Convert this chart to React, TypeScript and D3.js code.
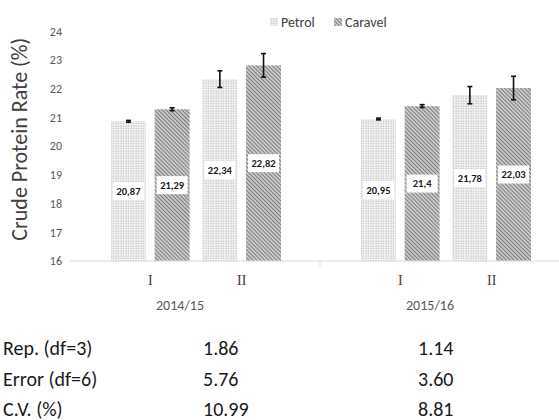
import React from 'react';
import * as d3 from 'd3';

// values
const seasons = ['2014/15', '2015/16'];
const stages = ['I', 'II'];
const varieties = ['Petrol', 'Caravel'];

// [season][stage] per variety
const petrolValues = [[20.87, 22.34], [20.95, 21.78]];
const caravelValues = [[21.29, 22.82], [21.4, 22.03]];
const petrolErrors = [[0.03, 0.29], [0.03, 0.3]];
const caravelErrors = [[0.05, 0.41], [0.05, 0.41]];

const petrolLabels = [['20,87', '22,34'], ['20,95', '21,78']];
const caravelLabels = [['21,29', '22,82'], ['21,4', '22,03']];

const yTicks = [16, 17, 18, 19, 20, 21, 22, 23, 24];

const statRows = ['Rep. (df=3)', 'Error (df=6)', 'C.V. (%)'];
const stats1415 = ['1.86', '5.76', '10.99'];
const stats1516 = ['1.14', '3.60', '8.81'];

const W = 559;
const H = 420;
const SANS = "Carlito, 'Open Sans', sans-serif";

const App: React.FC = () => {
  const x0 = d3.scaleBand<string>().domain(seasons).range([70, 570]);
  const x1 = d3.scaleBand<string>().domain(stages).range([41, 211]).paddingInner(0.14);
  const x2 = d3.scaleBand<string>().domain(varieties).range([0, x1.bandwidth()]).paddingInner(0.2);
  const y = d3.scaleLinear().domain([16, 24]).range([261, 31.5]);

  const bars: { key: string; x: number; v: number; e: number; label: string; variety: string }[] = [];
  seasons.forEach((s, si) => {
    stages.forEach((st, ti) => {
      varieties.forEach((vr) => {
        const isP = vr === 'Petrol';
        bars.push({
          key: `${s}-${st}-${vr}`,
          x: x0(s)! + x1(st)! + x2(vr)!,
          v: isP ? petrolValues[si][ti] : caravelValues[si][ti],
          e: isP ? petrolErrors[si][ti] : caravelErrors[si][ti],
          label: isP ? petrolLabels[si][ti] : caravelLabels[si][ti],
          variety: vr,
        });
      });
    });
  });

  const bw = x2.bandwidth();
  const fillOf = (vr: string) => (vr === 'Petrol' ? 'url(#dots)' : 'url(#hatch)');

  return (
    <svg width={W} height={H} style={{ position: 'absolute', left: 0, top: 0, background: '#fff' }}>
      <defs>
        <pattern id="dots" width="2.5" height="2.5" patternUnits="userSpaceOnUse">
          <rect width="2.5" height="2.5" fill="#f2f2f2" />
          <rect x="0.5" y="0.5" width="1.1" height="1.1" fill="#b0b0b0" />
        </pattern>
        <pattern id="hatch" width="2.8" height="2.8" patternUnits="userSpaceOnUse" patternTransform="rotate(-45)">
          <rect width="2.8" height="2.8" fill="#c8c8c8" />
          <line x1="0" y1="0" x2="0" y2="2.8" stroke="#666" strokeWidth="1.5" />
        </pattern>
      </defs>

      {/* y axis title */}
      <text
        transform={`translate(27,${(y(16) + y(24)) / 2 - 7}) rotate(-90)`}
        textAnchor="middle"
        fontFamily={SANS}
        fontSize={22}
        fill="#404040"
      >
        Crude Protein Rate (%)
      </text>

      {/* y tick labels */}
      {yTicks.map((t) => (
        <text key={t} x={62} y={y(t)} dy="0.35em" textAnchor="end" fontFamily={SANS} fontSize={12} fill="#595959">
          {t}
        </text>
      ))}

      {/* legend */}
      <g fontFamily={SANS} fontSize={14} fill="#404040">
        <rect x={270} y={18} width={8} height={8} fill="url(#dots)" />
        <text x={281} y={22} dy="0.35em">Petrol</text>
        <rect x={334} y={18} width={8} height={8} fill="url(#hatch)" />
        <text x={345} y={22} dy="0.35em">Caravel</text>
      </g>

      {/* bars */}
      {bars.map((b) => (
        <rect key={b.key} x={b.x} y={y(b.v)} width={bw} height={y(16) - y(b.v)} fill={fillOf(b.variety)} />
      ))}

      {/* error bars */}
      {bars.map((b) => {
        const cx = b.x + bw / 2;
        return (
          <g key={`e-${b.key}`} stroke="#111" strokeWidth={1.6}>
            <line x1={cx} x2={cx} y1={y(b.v + b.e)} y2={y(b.v - b.e)} />
            <line x1={cx - 2.5} x2={cx + 2.5} y1={y(b.v + b.e)} y2={y(b.v + b.e)} />
            <line x1={cx - 2.5} x2={cx + 2.5} y1={y(b.v - b.e)} y2={y(b.v - b.e)} />
          </g>
        );
      })}

      {/* value labels */}
      {bars.map((b) => {
        const cx = b.x + bw / 2;
        const cy = (y(b.v) + y(16)) / 2;
        return (
          <g key={`l-${b.key}`}>
            <rect x={cx - 15.5} y={cy - 9} width={31} height={18} fill="#fff" />
            <text x={cx} y={cy} dy="0.35em" textAnchor="middle" fontFamily={SANS} fontWeight="bold" fontSize={10.5} fill="#1a1a1a">
              {b.label}
            </text>
          </g>
        );
      })}

      {/* baseline */}
      <line x1={70} x2={W} y1={y(16)} y2={y(16)} stroke="#d9d9d9" strokeWidth={1} />
      <line x1={x0('2015/16')!} x2={x0('2015/16')!} y1={y(16)} y2={y(16) + 5} stroke="#d9d9d9" />

      {/* stage labels */}
      {seasons.map((s) =>
        stages.map((st) => (
          <text
            key={`${s}-${st}`}
            x={x0(s)! + x1(st)! + x1.bandwidth() / 2}
            y={285}
            textAnchor="middle"
            fontFamily="'Liberation Serif', 'Times New Roman', serif"
            fontSize={14}
            fill="#404040"
          >
            {st}
          </text>
        ))
      )}

      {/* season labels */}
      {seasons.map((s) => (
        <text
          key={s}
          x={x0(s)! + (x1('I')! + x1('II')! + x1.bandwidth()) / 2 - 16}
          y={310}
          textAnchor="middle"
          fontFamily={SANS}
          fontSize={14}
          fill="#595959"
        >
          {s}
        </text>
      ))}

      {/* ANOVA table */}
      <g fontFamily={SANS} fontSize={20} fill="#1a1a1a">
        {statRows.map((r, i) => (
          <g key={r}>
            <text x={3} y={355 + i * 30.5}>{r}</text>
            <text x={203} y={355 + i * 30.5}>{stats1415[i]}</text>
            <text x={418} y={355 + i * 30.5}>{stats1516[i]}</text>
          </g>
        ))}
      </g>
    </svg>
  );
};

export default App;
